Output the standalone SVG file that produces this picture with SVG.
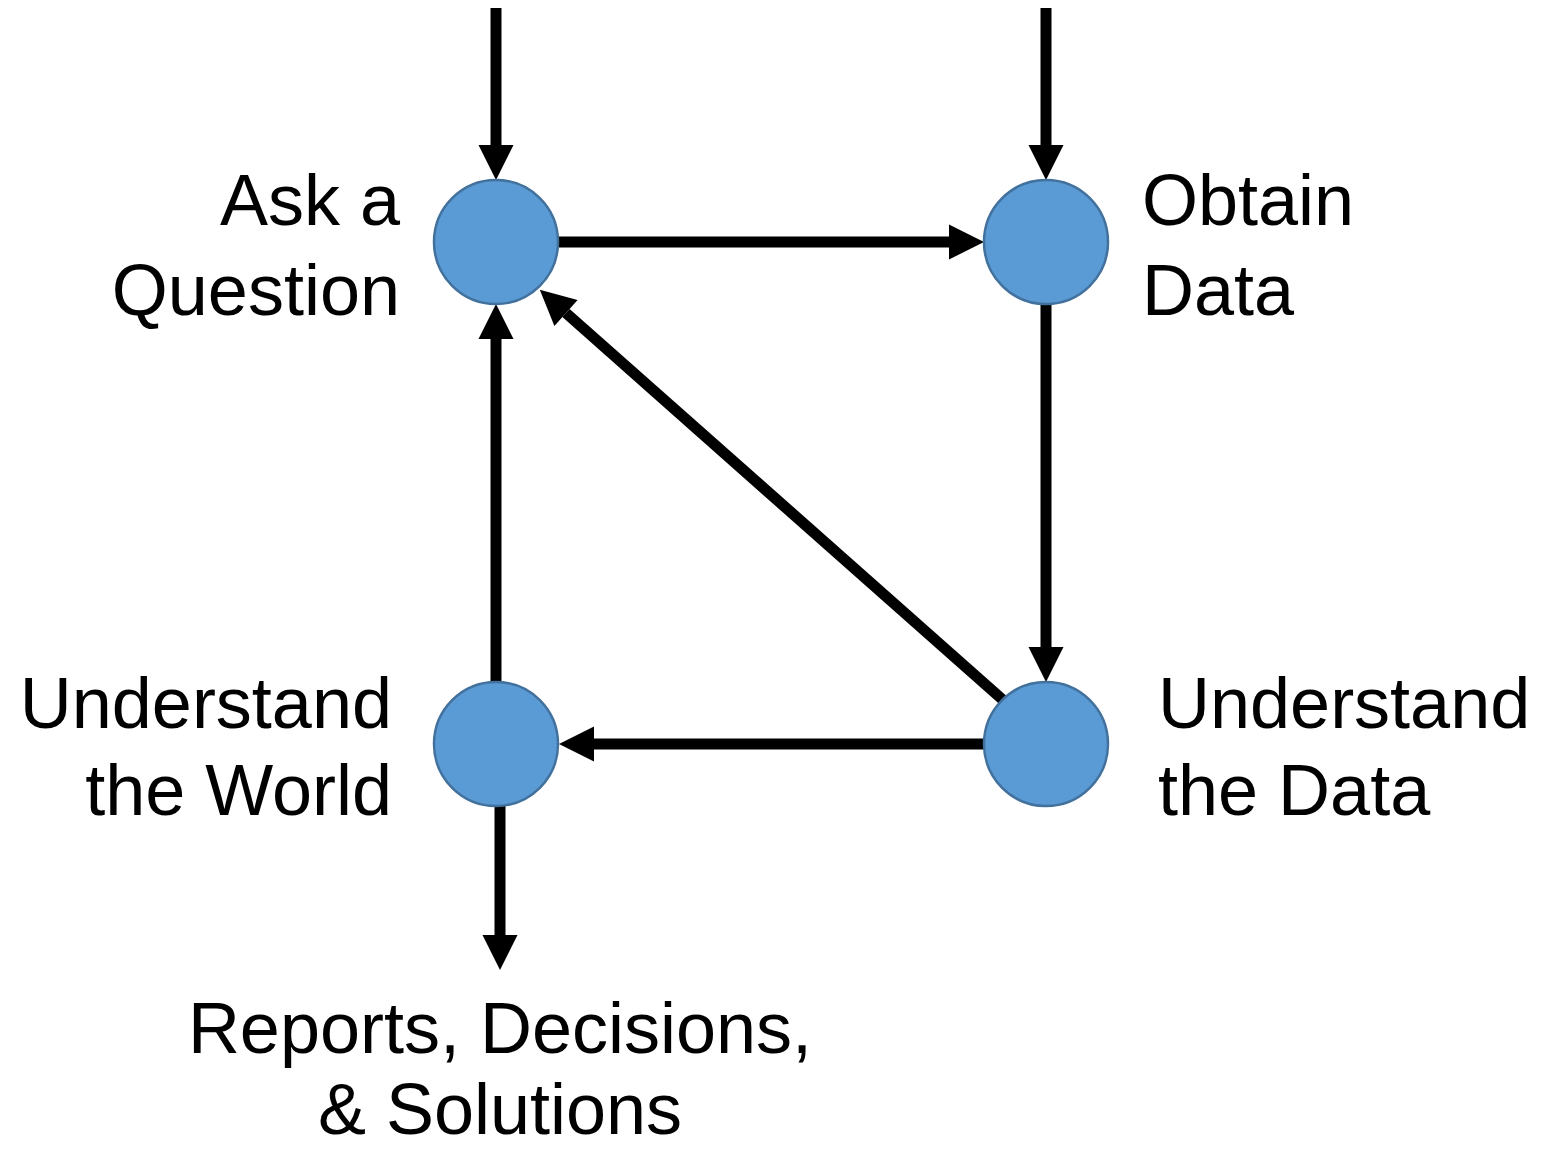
<svg xmlns="http://www.w3.org/2000/svg" width="1542" height="1149" viewBox="0 0 1542 1149">
<style>
.node circle{fill:#5B9BD5;stroke:#41719C;stroke-width:2.5}
.lbl{font-family:"Liberation Sans",Arial,sans-serif;font-size:72px;fill:#000}
.conn line{stroke:#000;stroke-width:11;fill:none;marker-end:url(#ah)}
</style>
<defs>
<marker id="ah" markerUnits="userSpaceOnUse" markerWidth="36" markerHeight="36" refX="0" refY="17.5" orient="auto" viewBox="0 0 36 36" overflow="visible">
<path d="M0,0 L35,17.5 L0,35 Z" fill="#000"/>
</marker>
</defs>
<rect width="1542" height="1149" fill="#fff"/>
<g id="connectors" class="conn">
<line x1="496" y1="8" x2="496" y2="145"/>
<line x1="1046" y1="8" x2="1046" y2="145"/>
<line x1="559" y1="242" x2="949" y2="242"/>
<line x1="1046" y1="305" x2="1046" y2="647"/>
<line x1="984" y1="744" x2="594" y2="744"/>
<line x1="496" y1="682" x2="496" y2="339"/>
<line x1="1003" y1="700" x2="566" y2="313"/>
<line x1="500" y1="806" x2="500" y2="935"/>
</g>
<g id="ask" class="node">
<circle cx="496" cy="242" r="62"/>
<text class="lbl" text-anchor="end"><tspan x="400" y="225">Ask a</tspan><tspan x="400" y="315">Question</tspan></text>
</g>
<g id="obtain" class="node">
<circle cx="1046" cy="242" r="62"/>
<text class="lbl"><tspan x="1142" y="225">Obtain</tspan><tspan x="1142" y="315">Data</tspan></text>
</g>
<g id="world" class="node">
<circle cx="496" cy="744" r="62"/>
<text class="lbl" text-anchor="end"><tspan x="392" y="728">Understand</tspan><tspan x="392" y="815">the World</tspan></text>
</g>
<g id="data" class="node">
<circle cx="1046" cy="744" r="62"/>
<text class="lbl"><tspan x="1158" y="728">Understand</tspan><tspan x="1158" y="815">the Data</tspan></text>
</g>
<g id="reports">
<text class="lbl" text-anchor="middle"><tspan x="500" y="1053">Reports, Decisions,</tspan><tspan x="500" y="1134">&amp; Solutions</tspan></text>
</g>
</svg>
